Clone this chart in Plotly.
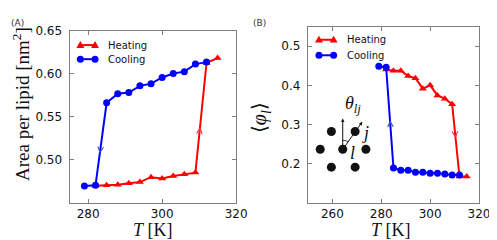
import plotly.graph_objects as go

# ---------------- data ----------------
T_heat_A = [282, 285, 288, 291, 294, 297, 300, 303, 306, 309, 312, 315]
area_heat = [0.4697, 0.4702, 0.4709, 0.4725, 0.4739, 0.4796, 0.4781, 0.4810, 0.4830, 0.4849, 0.6124, 0.6181]
T_cool_A = [279, 282, 285, 288, 291, 294, 297, 300, 303, 306, 309, 312]
area_cool = [0.4694, 0.4702, 0.5661, 0.5766, 0.5780, 0.5857, 0.5883, 0.5955, 0.6000, 0.6022, 0.6110, 0.6133]

T_heat_B = [282, 285, 288, 291, 294, 297, 300, 303, 306, 309, 312, 315]
phi_heat = [0.4405, 0.4373, 0.4373, 0.4239, 0.4182, 0.3915, 0.4000, 0.3741, 0.3659, 0.3517, 0.1669, 0.1669]
T_cool_B = [279, 282, 285, 288, 291, 294, 297, 300, 303, 306, 309, 312]
phi_cool = [0.4488, 0.4460, 0.1886, 0.1830, 0.1830, 0.1780, 0.1780, 0.1755, 0.1755, 0.1730, 0.1705, 0.1705]

xticks_A = [280, 300, 320]
yticks_A = [0.50, 0.55, 0.60, 0.65]
xticks_B = [260, 280, 300, 320]
yticks_B = [0.2, 0.3, 0.4, 0.5]

series_names = ["Heating", "Cooling"]

RED = "#ff0000"
BLUE = "#0000ff"
W, H = 497, 240

fig = go.Figure()

def add(x, y, name, color, sym, xa, ya):
    fig.add_trace(go.Scatter(
        x=x, y=y, name=name, mode="lines+markers", showlegend=False,
        line=dict(color=color, width=2),
        marker=dict(color=color, size=7, symbol=sym),
        xaxis=xa, yaxis=ya))

add(T_heat_A, area_heat, series_names[0], RED, "triangle-up", "x", "y")
add(T_cool_A, area_cool, series_names[1], BLUE, "circle", "x", "y")
add(T_heat_B, phi_heat, series_names[0], RED, "triangle-up", "x2", "y2")
add(T_cool_B, phi_cool, series_names[1], BLUE, "circle", "x2", "y2")

def xd(a, b):
    return [a / W, b / W]

def yd(top, bot):
    return [1 - bot / H, 1 - top / H]

axis_common = dict(
    showline=True, linecolor="#7f7f7f", linewidth=1.2, mirror="ticks",
    ticks="inside", ticklen=4, tickcolor="#7f7f7f", tickwidth=1.2,
    showgrid=False, zeroline=False,
    tickfont=dict(family="DejaVu Sans", size=12, color="#111"),
)

fig.update_layout(
    width=W, height=H,
    margin=dict(l=0, r=0, t=0, b=0),
    paper_bgcolor="white", plot_bgcolor="white",
    showlegend=False,
    xaxis=dict(domain=xd(63, 233.3), range=[275, 320], tickvals=xticks_A, anchor="y", **axis_common),
    yaxis=dict(domain=yd(16, 193.3), range=[0.45, 0.65], tickvals=yticks_A, tickformat=".2f", anchor="x",
               ticklabelstandoff=4, **axis_common),
    xaxis2=dict(domain=xd(306.7, 481.7), range=[250, 320], tickvals=xticks_B, anchor="y2", **axis_common),
    yaxis2=dict(domain=yd(12, 193.3), range=[0.1, 0.55], tickvals=yticks_B, tickformat=".1f", anchor="x2",
                ticklabelstandoff=4, **axis_common),
)

annotations = []
shapes = []

# arrows on the transition segments
def seg_arrow(xs, ys, i, j, ytip, color, xr, yr):
    x0, y0, x1, y1 = xs[i], ys[i], xs[j], ys[j]
    s = (ytip - y0) / (y1 - y0)
    st = s - 0.06
    annotations.append(dict(
        x=x0 + s * (x1 - x0), y=y0 + s * (y1 - y0),
        ax=x0 + st * (x1 - x0), ay=y0 + st * (y1 - y0),
        xref=xr, yref=yr, axref=xr, ayref=yr, text="",
        showarrow=True, arrowhead=5, arrowsize=1.1, arrowwidth=1, arrowcolor=color))

seg_arrow(T_cool_A, area_cool, 2, 1, 0.507, "#3050b0", "x", "y")
seg_arrow(T_heat_A, area_heat, 9, 10, 0.538, "#ff3030", "x", "y")
seg_arrow(T_cool_B, phi_cool, 2, 1, 0.311, "#3050b0", "x2", "y2")
seg_arrow(T_heat_B, phi_heat, 9, 10, 0.265, "#ff3030", "x2", "y2")

# ---------------- manual legends (matplotlib style: two markers per line) ----------------
def legend_entry(x_left, x_right, x_text, y, color, marker, label):
    yp = 1 - y / H
    shapes.append(dict(type="line", xref="paper", yref="paper",
                       x0=x_left / W, x1=x_right / W, y0=yp, y1=yp,
                       line=dict(color=color, width=2)))
    for xm in (x_left, x_right):
        if marker == "circle":
            shapes.append(dict(type="circle", xref="paper", yref="paper",
                               xsizemode="pixel", ysizemode="pixel",
                               xanchor=xm / W, yanchor=yp, x0=-3.5, x1=3.5, y0=-3.5, y1=3.5,
                               fillcolor=color, line=dict(width=0)))
        else:
            shapes.append(dict(type="path", xref="paper", yref="paper",
                               xsizemode="pixel", ysizemode="pixel",
                               xanchor=xm / W, yanchor=yp,
                               path="M -4,-2.8 L 4,-2.8 L 0,4 Z",
                               fillcolor=color, line=dict(width=0)))
    annotations.append(dict(text=label, x=x_text / W, y=yp, xref="paper", yref="paper",
                            xanchor="left", yanchor="middle", showarrow=False,
                            font=dict(family="DejaVu Sans", size=10, color="#111")))

legend_entry(74, 89, 100, 31, RED, "triangle", series_names[0])
legend_entry(74, 89, 100, 45.5, BLUE, "circle", series_names[1])
legend_entry(318, 333, 345, 25.5, RED, "triangle", series_names[0])
legend_entry(318, 333, 345, 41.5, BLUE, "circle", series_names[1])

# axis titles and panel labels
serif = "Liberation Serif"
def txt(text, x, y, size, family=serif, angle=0, xanchor="center", color="#111"):
    annotations.append(dict(text=text, x=x / W, y=1 - y / H, xref="paper", yref="paper",
                            xanchor=xanchor, yanchor="middle", textangle=angle, showarrow=False,
                            font=dict(family=family, size=size, color=color)))

txt("Area per lipid [nm<sup>2</sup>]", 14, 92, 19, angle=-90)
txt("<i>T</i> [K]", 148, 221, 18)
txt("⟨<i>φ</i><sub><i>l</i></sub>⟩", 259, 106, 20, angle=-90)
txt("<i>T</i> [K]", 392, 221, 18)
txt("(A)", 1, 8, 9, family="DejaVu Sans", xanchor="left", color="#333")
txt("(B)", 248, 8, 9, family="DejaVu Sans", xanchor="left", color="#333")

# ---------------- inset schematic (hexagonal neighbourhood) ----------------
DW, DH = 175.0, 181.3  # panel B plot area size in px
cx, cy = 35.6, 126.3   # centre dot, px from top-left of panel B plot area
hex_offsets = [(0, 0), (-11.6, -18.3), (12.7, -18.3), (-23.0, 0), (23.7, 0), (-11.6, 18.4), (12.7, 18.4)]

def fx(px):
    return px / DW

def fy(py):
    return 1 - py / DH

for dx, dy in hex_offsets:
    shapes.append(dict(type="circle", xref="x2 domain", yref="y2 domain",
                       xsizemode="pixel", ysizemode="pixel",
                       xanchor=fx(cx + dx), yanchor=fy(cy + dy),
                       x0=-4.5, x1=4.5, y0=-4.5, y1=4.5,
                       fillcolor="#111", line=dict(width=0)))
shapes.append(dict(type="path", xref="x2 domain", yref="y2 domain",
                   xsizemode="pixel", ysizemode="pixel",
                   xanchor=fx(cx), yanchor=fy(cy),
                   path="M 0,9 Q 3.5,8.8 5.5,7.6", line=dict(color="#111", width=0.8)))

annotations += [
    dict(x=fx(cx), y=fy(cy - 31.6), xref="x2 domain", yref="y2 domain", ax=0, ay=31.6,
         text="", showarrow=True, arrowhead=2, arrowsize=0.7, arrowwidth=1, arrowcolor="#111"),
    dict(x=fx(cx + 20), y=fy(cy - 28.3), xref="x2 domain", yref="y2 domain", ax=-20, ay=28.3,
         text="", showarrow=True, arrowhead=2, arrowsize=0.7, arrowwidth=1, arrowcolor="#111"),
]
for text, px, py in [("<i>θ</i><sub><i>lj</i></sub>", 46.5, 80), ("<i>j</i>", 58.5, 110), ("<i>l</i>", 46, 130)]:
    annotations.append(dict(text=text, x=fx(px), y=fy(py), xref="x2 domain", yref="y2 domain",
                            xanchor="center", yanchor="middle", showarrow=False,
                            font=dict(family=serif, size=18, color="#111")))

fig.update_layout(annotations=annotations, shapes=shapes)
fig.write_html("out.html")
